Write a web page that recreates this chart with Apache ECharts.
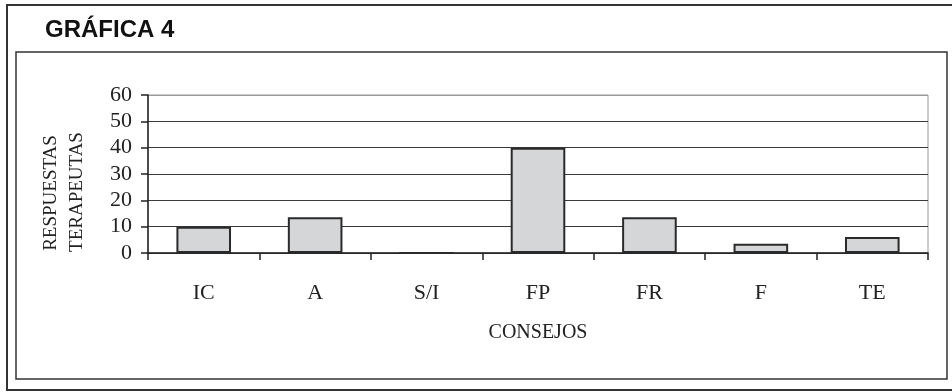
<!DOCTYPE html>
<html>
<head>
<meta charset="utf-8">
<script src="https://cdn.jsdelivr.net/npm/echarts@6/dist/echarts.min.js"></script>
<style>
  html, body { margin: 0; padding: 0; background: #fff; }
  #chart { width: 952px; height: 392px; }
</style>
</head>
<body>
<div id="chart"></div>
<script>
// Consejos dados por los terapeutas
const categories = ['IC', 'A', 'S/I', 'FP', 'FR', 'F', 'TE'];
const respuestas = [10, 13.6, 0, 40, 13.6, 3.5, 6.1];
const yTicks = [0, 10, 20, 30, 40, 50, 60];

const titleText = 'GRÁFICA 4';
const xName = 'CONSEJOS';
const yNameLines = ['RESPUESTAS', 'TERAPEUTAS'];

const serif = '"Liberation Serif", "DejaVu Serif", serif';
const ink = '#222';

const chart = echarts.init(document.getElementById('chart'), null, { renderer: 'canvas' });

chart.setOption({
  animation: false,
  backgroundColor: '#fff',
  grid: {
    left: 148, right: 24, top: 95, bottom: 139,
    show: true, borderColor: '#9a9a9a', borderWidth: 1, backgroundColor: 'transparent'
  },
  xAxis: {
    type: 'category',
    data: categories,
    boundaryGap: true,
    axisLine: { lineStyle: { color: ink, width: 1.5 } },
    axisTick: { show: true, alignWithLabel: false, length: 7, lineStyle: { color: ink, width: 1.5 } },
    axisLabel: { color: ink, fontFamily: serif, fontSize: 22, margin: 29 },
    splitLine: { show: false }
  },
  yAxis: {
    type: 'value',
    min: yTicks[0],
    max: yTicks[yTicks.length - 1],
    interval: yTicks[1] - yTicks[0],
    axisLine: { show: true, lineStyle: { color: ink, width: 1.5 } },
    axisTick: { show: true, length: 7, lineStyle: { color: ink, width: 1.5 } },
    axisLabel: { color: ink, fontFamily: serif, fontSize: 22, margin: 16 },
    splitLine: {
      show: true,
      lineStyle: { color: ['#3a3a3a', '#3a3a3a', '#3a3a3a', '#3a3a3a', '#3a3a3a', '#3a3a3a', '#9a9a9a'], width: 1 }
    }
  },
  series: [{
    type: 'bar',
    data: respuestas,
    barWidth: '49%',
    itemStyle: { color: '#d5d6d8', borderColor: '#2a2a2a', borderWidth: 2 }
  }],
  graphic: [
    // marco exterior
    { type: 'rect', shape: { x: 7, y: 5, width: 960, height: 385 },
      style: { fill: 'none', stroke: '#333', lineWidth: 2 }, silent: true },
    // marco del gráfico
    { type: 'rect', shape: { x: 16, y: 52, width: 931, height: 327 },
      style: { fill: 'none', stroke: '#333', lineWidth: 1.5 }, silent: true },
    { type: 'text', left: 45, top: 18,
      style: { text: titleText, font: 'bold 24px "Liberation Sans", Arial, sans-serif', fill: '#111' } },
    { type: 'text', x: 538, y: 333,
      style: { text: xName, font: '20px ' + serif, fill: ink, textAlign: 'center', textVerticalAlign: 'middle' } },
    { type: 'text', x: 51, y: 193, rotation: Math.PI / 2,
      style: { text: yNameLines[0], font: '19px ' + serif, fill: ink, textAlign: 'center', textVerticalAlign: 'middle' } },
    { type: 'text', x: 77, y: 192, rotation: Math.PI / 2,
      style: { text: yNameLines[1], font: '19px ' + serif, fill: ink, textAlign: 'center', textVerticalAlign: 'middle' } }
  ]
});
</script>
</body>
</html>
